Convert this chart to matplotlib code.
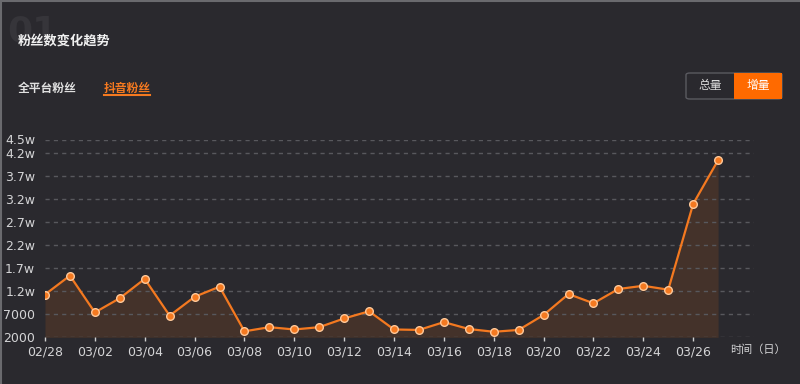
import matplotlib.pyplot as plt
from matplotlib.patches import FancyBboxPatch, Rectangle
from matplotlib.lines import Line2D

plt.rcParams['font.family'] = ['Noto Sans CJK SC', 'DejaVu Sans']

dates = ["02/28", "03/01", "03/02", "03/03", "03/04", "03/05", "03/06",
         "03/07", "03/08", "03/09", "03/10", "03/11", "03/12", "03/13",
         "03/14", "03/15", "03/16", "03/17", "03/18", "03/19", "03/20",
         "03/21", "03/22", "03/23", "03/24", "03/25", "03/26", "03/27"]
fans = [11300, 15400, 7400, 10500, 14700, 6700, 10800,
        13000, 3300, 4200, 3700, 4200, 6100, 7650,
        3700, 3600, 5300, 3800, 3200, 3600, 6850,
        11400, 9400, 12500, 13200, 12350, 31000, 40500]
y_ticks = [2000, 7000, 12000, 17000, 22000, 27000, 32000, 37000, 42000, 45000]
y_labels = ["2000", "7000", "1.2w", "1.7w", "2.2w", "2.7w", "3.2w", "3.7w", "4.2w", "4.5w"]

bg = "#2a292e"
orange = "#f47920"
text_c = "#d4d4d6"

fig = plt.figure(figsize=(8, 3.84), dpi=100, facecolor=bg)

# frame edges
fig.add_artist(Line2D([0, 1], [0.998, 0.998], color="#6a6a6e", lw=1.5))
fig.add_artist(Line2D([0.001, 0.001], [0, 1], color="#6a6a6e", lw=1.5))

# header
fig.text(7 / 800, 1 - 32 / 384, "01", fontsize=26, color="#36353a",
         fontweight="bold", va="center", family="DejaVu Sans")
fig.text(18 / 800, 1 - 41 / 384, "粉丝数变化趋势", fontsize=9.5,
         color="#f0f0f0", fontweight="bold", va="center")
fig.text(18 / 800, 1 - 88 / 384, "全平台粉丝", fontsize=8.5,
         color="#e0e0e0", fontweight="bold", va="center")
fig.text(104 / 800, 1 - 88 / 384, "抖音粉丝", fontsize=8.5,
         color=orange, fontweight="bold", va="center")
fig.add_artist(Line2D([104 / 800, 150 / 800], [1 - 95 / 384, 1 - 95 / 384],
                      color=orange, lw=1.5))

# toggle buttons
fig.add_artist(FancyBboxPatch((686 / 800, 1 - 99 / 384), 96 / 800, 26 / 384,
                              boxstyle="round,pad=0,rounding_size=0.005",
                              fc="none", ec="#5a5a60", lw=1))
fig.add_artist(Rectangle((734 / 800, 1 - 99 / 384), 48 / 800, 26 / 384,
                         fc="#ff6a00", ec="none"))
fig.text(710 / 800, 1 - 86 / 384, "总量", fontsize=8.5, color="#dcdcdc",
         ha="center", va="center")
fig.text(758 / 800, 1 - 86 / 384, "增量", fontsize=8.5, color="white",
         ha="center", va="center")

ax = fig.add_axes([45 / 800, 1 - 337.3 / 384, 709 / 800, 197.8 / 384])
ax.set_facecolor(bg)
x = list(range(len(dates)))
ax.fill_between(x, fans, 2000, color="#44322a", lw=0)
ax.plot(x, fans, color=orange, lw=1.6, marker="o", markersize=5.5,
        markerfacecolor=orange, markeredgecolor="#ffc99a", markeredgewidth=1,
        zorder=3)

ax.set_xlim(0, 28.44)
ax.set_ylim(2000, 45000)
ax.set_yticks(y_ticks)
ax.set_yticklabels(y_labels)
ax.set_xticks(x[::2])
ax.set_xticklabels(dates[::2])
for yv in y_ticks:
    ax.axhline(yv, color="#58585d", lw=1, ls=(0, (3, 3)), zorder=1)

for s in ax.spines.values():
    s.set_visible(False)
ax.tick_params(axis="y", length=0, colors=text_c, labelsize=9, pad=7)
ax.tick_params(axis="x", length=3, width=1, color="#cfcfcf", colors=text_c,
               labelsize=9, pad=3, direction="out")
for lab in ax.get_xticklabels() + ax.get_yticklabels():
    lab.set_family("DejaVu Sans")

fig.text(730 / 800, 1 - 350 / 384, "时间（日）", fontsize=8, color=text_c,
         va="center")

fig.savefig("out.png", dpi=100, facecolor=bg)
